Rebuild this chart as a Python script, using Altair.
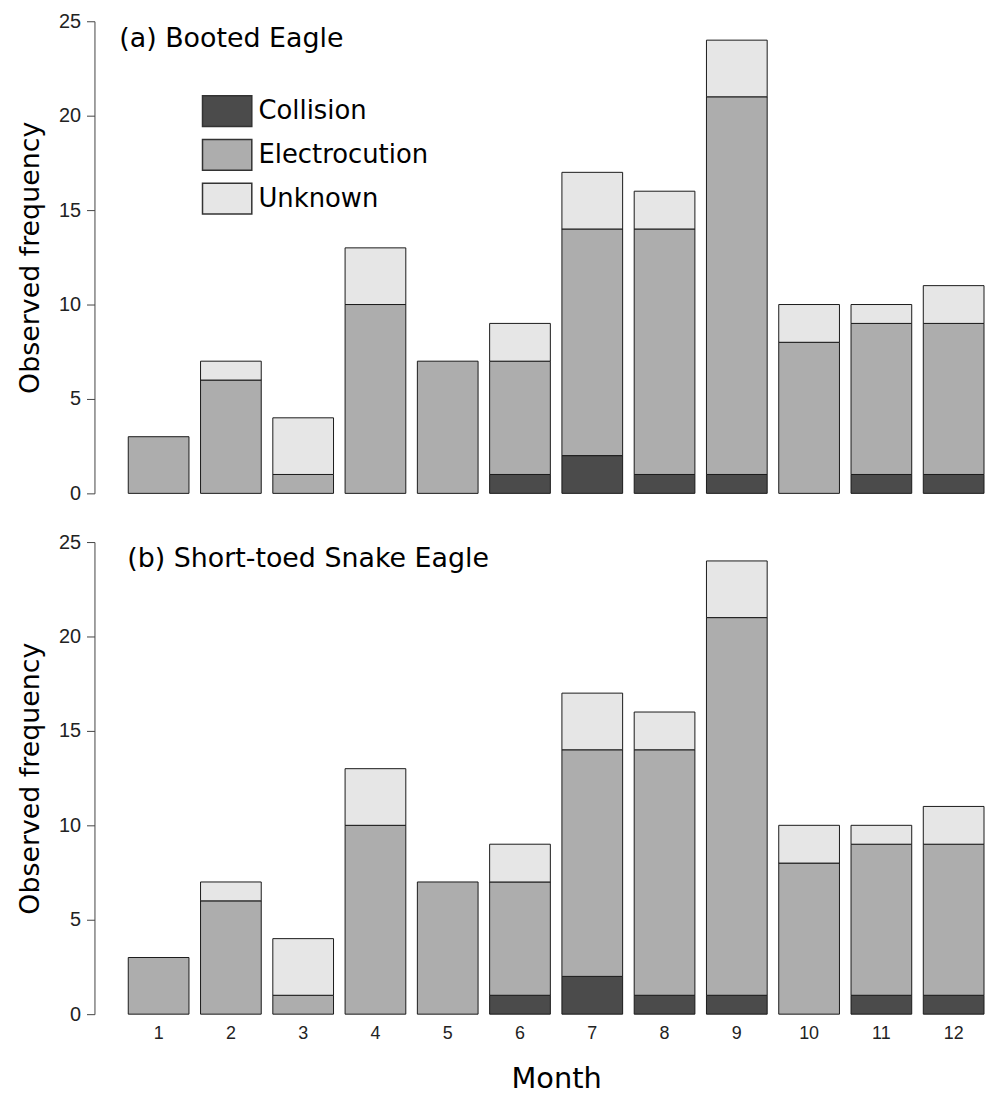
import altair as alt
import pandas as pd

months = list(range(1, 13))
collision = [0, 0, 0, 0, 0, 1, 2, 1, 1, 0, 1, 1]
electrocution = [3, 6, 1, 10, 7, 6, 12, 13, 20, 8, 8, 8]
unknown = [0, 1, 3, 3, 0, 2, 3, 2, 3, 2, 1, 2]
causes = ["Collision", "Electrocution", "Unknown"]
cause_colors = ["#4b4b4b", "#adadad", "#e6e6e6"]
panel_titles = ["(a) Booted Eagle", "(b) Short-toed Snake Eagle"]
y_ticks = [0, 5, 10, 15, 20, 25]

rows = []
for i, m in enumerate(months):
    for o, (c, vals) in enumerate(zip(causes, [collision, electrocution, unknown])):
        if vals[i] > 0:
            rows.append({"Month": m, "Cause": c, "Count": vals[i], "order": o})
df = pd.DataFrame(rows)

W, H = 861, 475


def panel(title, show_x, show_legend, title_dx, title_dy):
    x_axis = (
        alt.Axis(
            title="Month", labelAngle=0, domain=False, ticks=False,
            labelFont="Liberation Sans", labelFontSize=18, labelColor="#222",
            labelPadding=10, titleFont="DejaVu Sans", titleFontSize=29,
            titleFontWeight="normal", titleColor="black", titlePadding=23,
        )
        if show_x else None
    )
    if show_legend:
        legend = alt.Legend(
            title=None, orient="none", legendX=83, legendY=74, padding=0,
            symbolType="M-1.6,-1H1.6V1H-1.6Z", symbolSize=961,
            symbolStrokeColor="#333", symbolStrokeWidth=1.5,
            labelFont="DejaVu Sans", labelFontSize=26, labelColor="black",
            labelOffset=15, rowPadding=7, labelLimit=0,
        )
    else:
        legend = None
    bars = alt.Chart(df).mark_bar(stroke="#1a1a1a", strokeWidth=1).encode(
        x=alt.X("Month:O", scale=alt.Scale(paddingInner=0.16, paddingOuter=0), axis=x_axis),
        y=alt.Y(
            "Count:Q", stack="zero",
            scale=alt.Scale(domain=[0, 25], nice=False),
            axis=alt.Axis(
                values=y_ticks, title="Observed frequency", offset=34, grid=False,
                domainColor="#444", tickColor="#444", tickSize=8, labelPadding=6,
                labelFont="Liberation Sans", labelFontSize=20, labelColor="#222",
                titleFont="DejaVu Sans", titleFontSize=27, titleFontWeight="normal",
                titleColor="black", titlePadding=14,
            ),
        ),
        color=alt.Color("Cause:N", scale=alt.Scale(domain=causes, range=cause_colors), legend=legend),
        order=alt.Order("order:Q"),
    )
    label = alt.Chart(pd.DataFrame({"t": [title]})).mark_text(
        align="left", baseline="alphabetic", font="DejaVu Sans", fontSize=27, color="black"
    ).encode(x=alt.value(title_dx), y=alt.value(title_dy), text="t:N")
    return alt.layer(bars, label).properties(width=W, height=H)


top = panel(panel_titles[0], False, True, -9, 26)
bottom = panel(panel_titles[1], True, False, -1, 25)

chart = alt.vconcat(top, bottom, spacing=29).resolve_scale(color="independent").configure_view(
    stroke=None
).properties(padding={"left": 8, "top": 0, "right": 0, "bottom": 0})

chart.save("out.html", embed_options={"renderer": "svg", "actions": False})
